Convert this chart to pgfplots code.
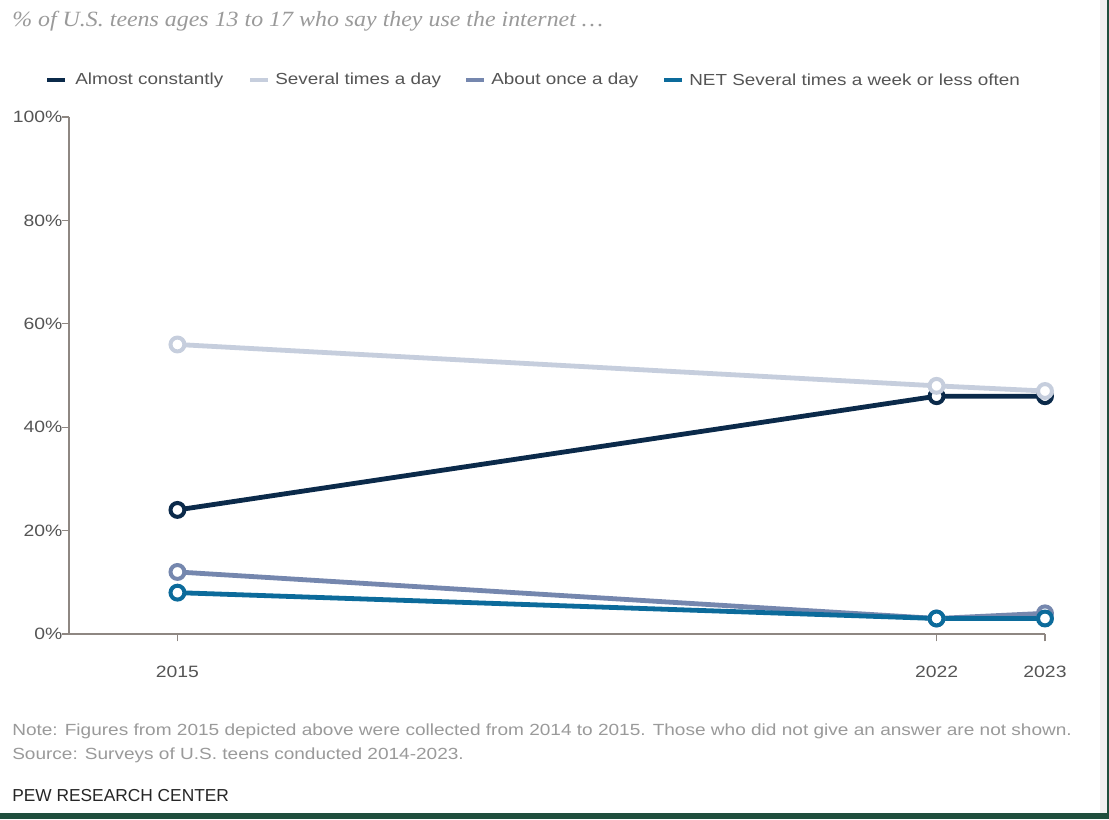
\documentclass[border=0pt]{standalone}
\usepackage{pgfplots}
\pgfplotsset{compat=1.18}
\usepackage{fontspec}
\setmainfont{Liberation Sans}[FakeStretch=1.18]
\newfontfamily\plainsans{Liberation Sans}
\newfontfamily\titlefont{Liberation Serif}[FakeStretch=1.1]
\definecolor{cA}{HTML}{0B2A4A}
\definecolor{cB}{HTML}{C6CEDD}
\definecolor{cC}{HTML}{7587AE}
\definecolor{cD}{HTML}{0C6B9B}
\definecolor{axgray}{HTML}{8E8782}
\definecolor{txgray}{HTML}{555555}
\definecolor{notegray}{HTML}{9A9A9A}
\definecolor{frame}{HTML}{1F4E3D}
\begin{document}
\begin{tikzpicture}[x=0.75pt,y=0.75pt]
\path[use as bounding box] (0,0) rectangle (1109,819);
\fill[white] (0,0) rectangle (1109,819);
\fill[black!6] (1100,0) rectangle (1109,819);
\fill[frame] (0,0) rectangle (1109,6);
\fill[frame] (1107,0) rectangle (1109,819);
% title
\node[anchor=west,inner sep=0,text=notegray] at (12,798) {\titlefont\fontsize{16.3}{19}\selectfont\itshape \% of U.S. teens ages 13 to 17 who say they use the internet \dots};
% legend
\begin{scope}[every node/.style={anchor=west,inner sep=0,text=txgray,font=\fontsize{12}{14}\selectfont}]
\draw[cA,line width=2.5pt] (47,739) -- (65,739); \node at (75,739) {Almost constantly};
\draw[cB,line width=2.5pt] (250,739) -- (268,739); \node at (275,739) {Several times a day};
\draw[cC,line width=2.5pt] (466,739) -- (484,739); \node at (491,739) {About once a day};
\draw[cD,line width=2.5pt] (664,739) -- (682,739); \node at (689,739) {NET Several times a week or less often};
\end{scope}
% notes
\begin{scope}[every node/.style={anchor=west,inner sep=0,text=notegray,font=\fontsize{12.1}{14}\selectfont}]
\node at (12,88) {Note: Figures from 2015 depicted above were collected from 2014 to 2015. Those who did not give an answer are not shown.};
\node at (12,64) {Source: Surveys of U.S. teens conducted 2014-2023.};
\end{scope}
\node[anchor=west,inner sep=0,text=black!85,font=\plainsans\fontsize{13}{15}\selectfont] at (12,23) {PEW RESEARCH CENTER};
\begin{axis}[
  at={(51.75pt,138.75pt)}, anchor=south west,
  scale only axis, width=732pt, height=387.75pt,
  xmin=2014, xmax=2023, ymin=0, ymax=100,
  axis lines*=left,
  axis line style={axgray, line width=0.9pt},
  every tick/.style={axgray, line width=0.9pt},
  tick align=outside, major tick length=5.5pt,
  xtick={2015,2022,2023},
  xticklabels={2015,2022,2023},
  ytick={0,20,40,60,80,100},
  yticklabel={\pgfmathprintnumber{\tick}\%},
  /pgf/number format/assume math mode=true,
  ticklabel style={font=\fontsize{12.3}{14}\selectfont, text=txgray},
  xticklabel style={yshift=-15pt},
  yticklabel style={xshift=4pt},
  clip=false,
  every axis plot/.append style={line width=3.6pt, mark=*, mark size=5.2pt},
]
\addplot[cA, mark options={draw=cA, fill=white, line width=3pt}] coordinates {(2015,24) (2022,46) (2023,46)};
\addplot[cB, mark options={draw=cB, fill=white, line width=3pt}] coordinates {(2015,56) (2022,48) (2023,47)};
\addplot[cC, mark options={draw=cC, fill=white, line width=3pt}] coordinates {(2015,12) (2022,3) (2023,4)};
\addplot[cD, mark options={draw=cD, fill=white, line width=3pt}] coordinates {(2015,8) (2022,3) (2023,3)};
\end{axis}
\end{tikzpicture}
\end{document}
